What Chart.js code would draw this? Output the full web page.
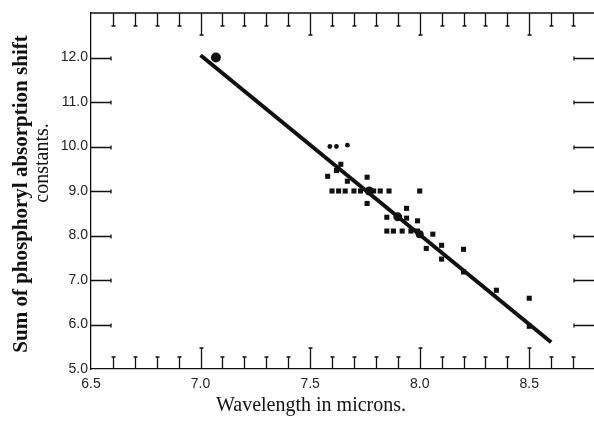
<!DOCTYPE html>
<html>
<head>
<meta charset="utf-8">
<script src="https://cdn.jsdelivr.net/npm/chart.js@4.4.0/dist/chart.umd.min.js"></script>
<style>
  html, body { margin: 0; padding: 0; background: #fff; overflow: hidden; }
  #wrap { width: 594px; height: 422px; overflow: hidden; }
</style>
</head>
<body>
<div id="wrap"><canvas id="chart" width="600" height="422"></canvas></div>
<script>
// --- data ---
const squareX = [7.64, 7.62, 7.58, 7.67, 7.76,
                 7.60, 7.63, 7.66, 7.70, 7.73, 7.79, 7.82, 7.86, 8.00,
                 7.76, 7.94, 7.85, 7.94, 7.99,
                 7.85, 7.88, 7.92, 7.96, 7.99, 8.06,
                 8.03, 8.10, 8.10, 8.20, 8.20, 8.35, 8.50, 8.50];
const squareY = [9.60, 9.46, 9.33, 9.22, 9.31,
                 9.00, 9.00, 9.00, 9.00, 9.00, 9.00, 9.00, 9.00, 9.00,
                 8.72, 8.61, 8.41, 8.39, 8.33,
                 8.10, 8.10, 8.10, 8.10, 8.10, 8.03,
                 7.71, 7.78, 7.47, 7.69, 7.18, 6.77, 6.59, 5.96];
const smallDotX = [7.59, 7.62, 7.67];
const smallDotY = [10.00, 10.00, 10.03];
const bigDotX = [7.07, 7.77, 7.90, 8.00];
const bigDotY = [12.00, 9.00, 8.42, 8.03];
const bigDotSize = [5, 4.5, 4.5, 4];
const fitX = [7.00, 8.60];
const fitY = [12.05, 5.60];

const xTickValues = [6.5, 7.0, 7.5, 8.0, 8.5];
const yTickValues = [5, 6, 7, 8, 9, 10, 11, 12];
const xTitle = 'Wavelength in microns.';
const yTitle = ['Sum of phosphoryl absorption shift', 'constants.'];

const toPoints = (xs, ys) => xs.map((v, i) => ({ x: v, y: ys[i] }));
const ink = '#111';

// hand drawn style tick marks + titles
const frameTicks = {
    id: 'frameTicks',
    afterDraw(chart) {
        const { ctx, chartArea: a, scales: { x, y } } = chart;
        ctx.save();
        ctx.strokeStyle = ink;
        ctx.lineWidth = 1.3;
        ctx.beginPath();
        ctx.moveTo(a.left, a.top); ctx.lineTo(a.right, a.top);
        ctx.moveTo(a.right, a.top); ctx.lineTo(a.right, a.bottom);
        // top and bottom ticks every 0.1
        for (let i = 1; i <= 22; i++) {
            const v = 6.5 + i * 0.1;
            const major = i % 5 === 0;
            const px = Math.round(x.getPixelForValue(v)) + 0.5;
            const lb = major ? 21 : 12;
            const lt = major ? 22 : 13;
            ctx.moveTo(px, a.bottom); ctx.lineTo(px, a.bottom - lb);
            ctx.moveTo(px - 2, a.bottom - lb); ctx.lineTo(px + 2, a.bottom - lb);
            ctx.moveTo(px, a.top); ctx.lineTo(px, a.top + lt);
            ctx.moveTo(px - 2, a.top + lt); ctx.lineTo(px + 2, a.top + lt);
        }
        // left and right ticks on whole units
        yTickValues.slice(1).forEach(v => {
            const py = Math.round(y.getPixelForValue(v)) + 0.5;
            ctx.moveTo(a.left, py); ctx.lineTo(a.left + 20, py);
            ctx.moveTo(a.left + 20, py - 2); ctx.lineTo(a.left + 20, py + 2);
            ctx.moveTo(a.right, py); ctx.lineTo(a.right - 21, py);
            ctx.moveTo(a.right - 21, py - 2); ctx.lineTo(a.right - 21, py + 2);
        });
        ctx.stroke();

        // titles
        ctx.fillStyle = ink;
        ctx.textAlign = 'center';
        ctx.textBaseline = 'middle';
        ctx.font = '20px "Liberation Serif", serif';
        ctx.fillText(xTitle, 311, 406);

        ctx.translate(22, 194);
        ctx.rotate(-Math.PI / 2);
        ctx.font = 'bold 21px "Liberation Serif", serif';
        ctx.fillText(yTitle[0], 0, 0);
        ctx.font = '20px "Liberation Serif", serif';
        ctx.fillText(yTitle[1], 31, 21);
        ctx.restore();
    }
};

new Chart(document.getElementById('chart'), {
    type: 'scatter',
    data: {
        datasets: [
            {
                type: 'line',
                data: toPoints(fitX, fitY),
                borderColor: ink,
                borderWidth: 4,
                pointRadius: 0,
                fill: false
            },
            {
                data: toPoints(squareX, squareY),
                pointStyle: 'rect',
                pointRadius: 3.6,
                borderWidth: 0,
                backgroundColor: ink
            },
            {
                data: toPoints(smallDotX, smallDotY),
                pointStyle: 'circle',
                pointRadius: 2.4,
                borderWidth: 0,
                backgroundColor: ink
            },
            {
                data: toPoints(bigDotX, bigDotY),
                pointStyle: 'circle',
                pointRadius: bigDotSize,
                borderWidth: 0,
                backgroundColor: ink
            }
        ]
    },
    options: {
        responsive: false,
        animation: false,
        layout: { padding: { top: 13, right: 4, left: 0, bottom: 0 } },
        plugins: { legend: { display: false }, tooltip: { enabled: false } },
        scales: {
            x: {
                type: 'linear',
                min: 6.5,
                max: 8.8,
                grid: { display: false, drawTicks: false },
                border: { display: true, color: ink, width: 1.3 },
                afterBuildTicks: s => { s.ticks = xTickValues.map(v => ({ value: v })); },
                afterFit: s => { s.height = 53; },
                ticks: {
                    padding: 7,
                    color: '#222',
                    font: { family: '"Liberation Sans", sans-serif', size: 14 },
                    callback: v => v.toFixed(1)
                }
            },
            y: {
                type: 'linear',
                min: 5,
                max: 13,
                grid: { display: false, drawTicks: false },
                border: { display: true, color: ink, width: 1.3 },
                afterBuildTicks: s => { s.ticks = yTickValues.map(v => ({ value: v })); },
                afterFit: s => { s.width = 91; },
                ticks: {
                    padding: 3,
                    color: '#222',
                    font: { family: '"Liberation Sans", sans-serif', size: 14 },
                    callback: v => v.toFixed(1)
                }
            }
        }
    },
    plugins: [frameTicks]
});
</script>
</body>
</html>
